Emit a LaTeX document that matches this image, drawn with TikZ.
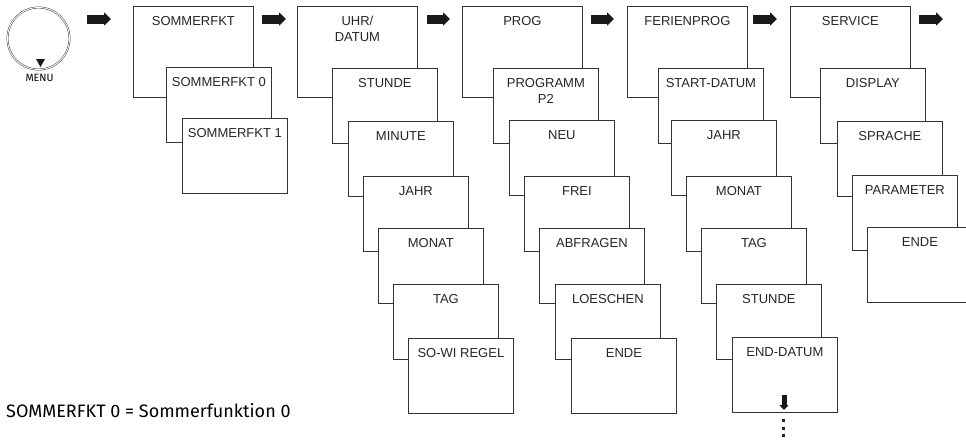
\documentclass[tikz,border=0pt]{standalone}
\usepackage{fontspec}
\setmainfont{Liberation Sans}
\newfontfamily\notefont{Fira Sans}
\usetikzlibrary{arrows.meta}

\begin{document}
\begin{tikzpicture}[x=1pt, y=-1pt,
    every node/.style={font=\fontsize{13}{16}\selectfont},
    mainbox/.style={draw=black!80, line width=0.8pt, fill=white, anchor=north west,
        minimum width=120pt, minimum height=91pt, inner sep=0pt},
    subbox/.style={draw=black!80, line width=0.8pt, fill=white, anchor=north west,
        minimum width=105pt, minimum height=75pt, inner sep=0pt},
    boxtext/.style={anchor=north, inner sep=0pt, yshift=-10pt, align=center, text=black!85},
    notetext/.style={font=\notefont\fontsize{10.5}{12}\selectfont, inner sep=0pt},
    fatarrow/.style={line width=9pt, black!90, -{Triangle[length=7pt, width=13pt]}},
    thinarrow/.style={line width=5pt, black!90, -{Triangle[length=5pt, width=9pt]}},
    dot/.style={fill=black!85, minimum size=3pt, inner sep=0pt}]
    \useasboundingbox (0,0) rectangle (966,440);

    % menu button
    \node[circle, draw=black!80, double, double distance=0.9pt, line width=0.45pt,
        minimum size=62pt, inner sep=0pt] (menu) at (38.5,38.5) {};
    \fill[black!90] (36,59) -- (45,59) -- (40.5,67) -- cycle;
    \node[notetext] (menulbl) at (39.5,77.5) {MENU};

    % SOMMERFKT
    \node[mainbox, label={[boxtext]north:SOMMERFKT}] (sommer) at (133,6) {};
    \node[subbox, label={[boxtext]north:SOMMERFKT 0}] (sommer0) at (166,67) {};
    \node[subbox, label={[boxtext]north:SOMMERFKT 1}] (sommer1) at (182,118) {};

    % UHR/DATUM
    \node[mainbox, label={[boxtext]north:UHR/\\DATUM}] (uhr) at (297,6) {};
    \node[subbox, label={[boxtext]north:STUNDE}] (stunde) at (332,68) {};
    \node[subbox, label={[boxtext]north:MINUTE}] (minute) at (348,121) {};
    \node[subbox, label={[boxtext]north:JAHR}] (jahr) at (363,176) {};
    \node[subbox, label={[boxtext]north:MONAT}] (monat) at (378,228) {};
    \node[subbox, label={[boxtext]north:TAG}] (tag) at (393,284) {};
    \node[subbox, label={[boxtext]north:SO-WI REGEL}] (sowi) at (408,338) {};

    % PROG
    \node[mainbox, label={[boxtext]north:PROG}] (prog) at (462,6) {};
    \node[subbox, label={[boxtext]north:PROGRAMM\\P2}] (progp2) at (493,68) {};
    \node[subbox, label={[boxtext]north:NEU}] (neu) at (509,120) {};
    \node[subbox, label={[boxtext]north:FREI}] (frei) at (524,176) {};
    \node[subbox, label={[boxtext]north:ABFRAGEN}] (abfragen) at (539,228) {};
    \node[subbox, label={[boxtext]north:LOESCHEN}] (loeschen) at (555,284) {};
    \node[subbox, label={[boxtext]north:ENDE}] (progende) at (571,338) {};

    % FERIENPROG
    \node[mainbox, label={[boxtext]north:FERIENPROG}] (ferien) at (627,6) {};
    \node[subbox, label={[boxtext]north:START-DATUM}] (startdat) at (658,68) {};
    \node[subbox, label={[boxtext]north:JAHR}] (fjahr) at (671,120) {};
    \node[subbox, label={[boxtext]north:MONAT}] (fmonat) at (686,176) {};
    \node[subbox, label={[boxtext]north:TAG}] (ftag) at (701,228) {};
    \node[subbox, label={[boxtext]north:STUNDE}] (fstunde) at (716,284) {};
    \node[subbox, label={[boxtext]north:END-DATUM}] (enddat) at (732,337) {};

    % SERVICE
    \node[mainbox, label={[boxtext]north:SERVICE}] (service) at (790,6) {};
    \node[subbox, label={[boxtext]north:DISPLAY}] (display) at (820,68) {};
    \node[subbox, label={[boxtext]north:SPRACHE}] (sprache) at (837,121) {};
    \node[subbox, label={[boxtext]north:PARAMETER}] (parameter) at (852,175) {};
    \node[subbox, label={[boxtext]north:ENDE}] (sende) at (867,227) {};

    % arrows
    \coordinate (a1) at (87,19);  \coordinate (b1) at (111,19);
    \coordinate (a2) at (262,19); \coordinate (b2) at (286,19);
    \coordinate (a3) at (427,19); \coordinate (b3) at (450,19);
    \coordinate (a4) at (591,19); \coordinate (b4) at (614,19);
    \coordinate (a5) at (753,19); \coordinate (b5) at (777,19);
    \coordinate (a6) at (919,19); \coordinate (b6) at (943,19);
    \coordinate (a7) at (784,395); \coordinate (b7) at (784,410);
    \draw[fatarrow] (a1) -- (b1);
    \draw[fatarrow] (a2) -- (b2);
    \draw[fatarrow] (a3) -- (b3);
    \draw[fatarrow] (a4) -- (b4);
    \draw[fatarrow] (a5) -- (b5);
    \draw[fatarrow] (a6) -- (b6);
    \draw[thinarrow] (a7) -- (b7);

    % more entries
    \node[dot] (d1) at (783.5,420.5) {};
    \node[dot] (d2) at (783.5,428) {};
    \node[dot] (d3) at (783.5,435.5) {};

    % note
    \node[notetext, font=\notefont\fontsize{18}{21}\selectfont, anchor=west] (note) at (6,411)
        {SOMMERFKT 0 = Sommerfunktion 0};
\end{tikzpicture}
\end{document}
